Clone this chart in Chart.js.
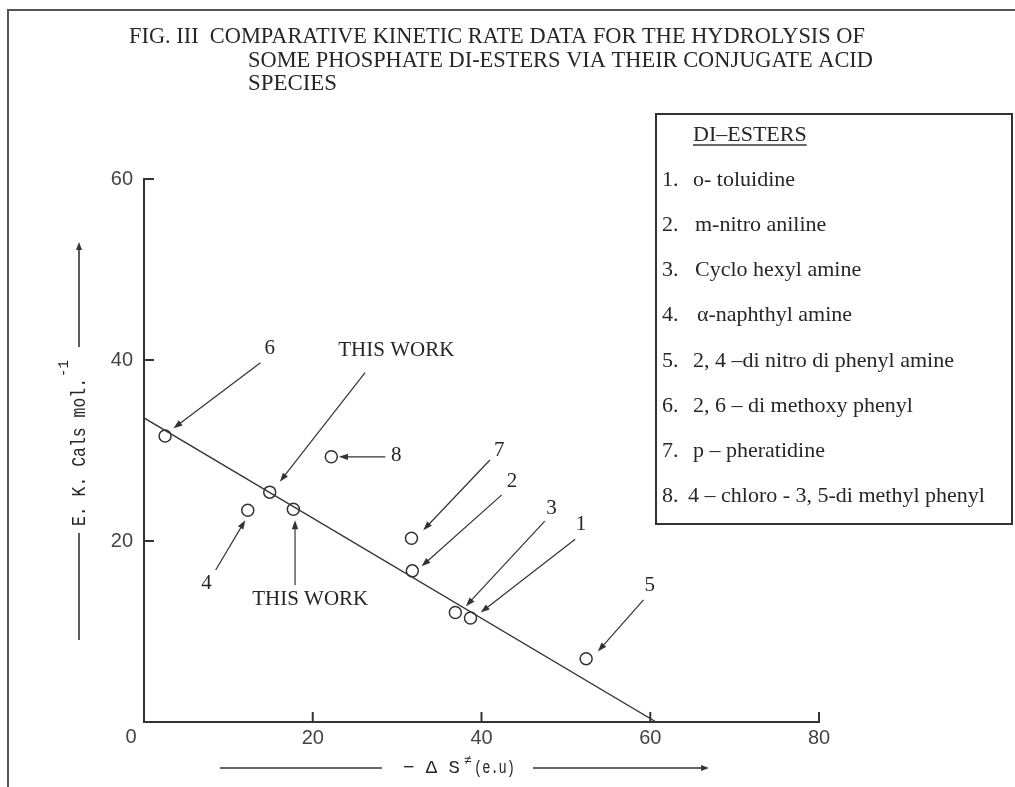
<!DOCTYPE html>
<html><head><meta charset="utf-8">
<script src="https://cdn.jsdelivr.net/npm/chart.js@4.4.1/dist/chart.umd.min.js"></script>
<style>html,body{margin:0;padding:0;background:#fff;}canvas{display:block;}</style>
</head><body>
<canvas id="c" width="1015" height="787"></canvas>
<script>
// ---------------- data ----------------
const titleLines = [
  'FIG. III  COMPARATIVE KINETIC RATE DATA FOR THE HYDROLYSIS OF',
  'SOME PHOSPHATE DI-ESTERS VIA THEIR CONJUGATE ACID',
  'SPECIES'
];
const legendTitle = 'DI\u2013ESTERS';
const legendNumbers = ['1.', '2.', '3.', '4.', '5.', '6.', '7.', '8.'];
const legendNames = [
  'o- toluidine',
  'm-nitro aniline',
  'Cyclo hexyl amine',
  '\u03b1-naphthyl amine',
  '2, 4 \u2013di nitro di phenyl amine',
  '2, 6 \u2013 di methoxy phenyl',
  'p \u2013 pheratidine',
  '4 \u2013 chloro - 3, 5-di methyl phenyl'
];
const pointIds = ['1', '2', '3', '4', '5', '6', '7', '8', 'THIS WORK', 'THIS WORK'];
const entropyX = [38.7, 31.8, 36.9, 12.3, 52.4, 2.5, 31.7, 22.2, 14.9, 17.7];   // -dS (e.u)
const energyY  = [11.5, 16.7, 12.1, 23.4, 7.0, 31.6, 20.3, 29.3, 25.4, 23.5];   // E kcal/mol
const fitX = [0, 60.7];
const fitY = [33.6, 0];
const xTickValues = [0, 20, 40, 60, 80];
const yTickValues = [0, 20, 40, 60];
const xAxisTitle = ['\u2212 \u0394 S', '\u2260', '(e.u)'];
const yAxisTitle = ['E. K. Cals mol.', '-1'];

// ---------------- layout of callouts (data units) ----------------
const callouts = [
  {text: '6',         lx: 14.9, ly: 41.3,  tx: 13.8, ty: 39.7,  hx: 3.5,  hy: 32.45},
  {text: 'THIS WORK', lx: 29.9, ly: 41.0,  tx: 26.2, ty: 38.6,  hx: 16.1, hy: 26.55},
  {text: '8',         lx: 29.9, ly: 29.45, tx: 28.6, ty: 29.3,  hx: 23.1, hy: 29.3},
  {text: '4',         lx: 7.4,  ly: 15.3,  tx: 8.5,  ty: 16.8,  hx: 12.0, hy: 22.3},
  {text: 'THIS WORK', lx: 19.7, ly: 13.5,  tx: 17.9, ty: 15.1,  hx: 17.9, hy: 22.3},
  {text: '7',         lx: 42.1, ly: 30.05, tx: 41.0, ty: 28.95, hx: 33.1, hy: 21.2},
  {text: '2',         lx: 43.6, ly: 26.55, tx: 42.4, ty: 25.1,  hx: 32.9, hy: 17.2},
  {text: '3',         lx: 48.3, ly: 23.6,  tx: 47.5, ty: 22.2,  hx: 38.15,hy: 12.8},
  {text: '1',         lx: 51.8, ly: 21.8,  tx: 51.1, ty: 20.2,  hx: 39.9, hy: 12.1},
  {text: '5',         lx: 59.95,ly: 15.1,  tx: 59.2, ty: 13.5,  hx: 53.8, hy: 7.8}
];

const INK = '#262626';
const SERIF = '"Liberation Serif", "Times New Roman", serif';
const MONO = '"Liberation Mono", "DejaVu Sans Mono", monospace';
const SANS = '"Liberation Sans", Arial, sans-serif';

function arrow(ctx, x1, y1, x2, y2, len, wid) {
  const a = Math.atan2(y2 - y1, x2 - x1);
  ctx.beginPath();
  ctx.moveTo(x1, y1);
  ctx.lineTo(x2 - Math.cos(a) * len * 0.6, y2 - Math.sin(a) * len * 0.6);
  ctx.stroke();
  ctx.beginPath();
  ctx.moveTo(x2, y2);
  ctx.lineTo(x2 - Math.cos(a) * len + Math.sin(a) * wid, y2 - Math.sin(a) * len - Math.cos(a) * wid);
  ctx.lineTo(x2 - Math.cos(a) * len - Math.sin(a) * wid, y2 - Math.sin(a) * len + Math.cos(a) * wid);
  ctx.closePath();
  ctx.fill();
}

const decor = {
  id: 'decor',
  beforeDraw(chart) {
    const ctx = chart.ctx;
    ctx.save();
    ctx.fillStyle = '#fff';
    ctx.fillRect(0, 0, chart.width, chart.height);
    // outer frame (top + left)
    ctx.strokeStyle = '#555';
    ctx.lineWidth = 2;
    ctx.beginPath();
    ctx.moveTo(8, chart.height);
    ctx.lineTo(8, 10);
    ctx.lineTo(chart.width, 10);
    ctx.stroke();
    // title
    ctx.fillStyle = INK;
    ctx.font = '24px ' + SERIF;
    ctx.textBaseline = 'middle';
    ctx.textAlign = 'left';
    ctx.fillText(titleLines[0], 129, 37, 736);
    ctx.fillText(titleLines[1], 248, 60.5, 625);
    ctx.fillText(titleLines[2], 248, 84, 89);
    // legend box
    ctx.strokeStyle = '#333';
    ctx.lineWidth = 2;
    ctx.strokeRect(656, 114, 356, 410);
    ctx.font = '22px ' + SERIF;
    ctx.fillText(legendTitle, 693, 135);
    const tw = ctx.measureText(legendTitle).width;
    ctx.lineWidth = 1.5;
    ctx.beginPath();
    ctx.moveTo(693, 145);
    ctx.lineTo(693 + tw, 145);
    ctx.stroke();
    const nameX = [693, 695, 695, 697, 693, 693, 693, 688];
    for (let i = 0; i < legendNames.length; i++) {
      const y = 180 + i * 45.2;
      ctx.fillText(legendNumbers[i], 662, y);
      ctx.fillText(legendNames[i], nameX[i], y);
    }
    // x axis title
    const ty = 768;
    ctx.font = '19px ' + MONO;
    ctx.fillText(xAxisTitle[0], 403, ty, 62);
    ctx.font = '13px ' + MONO;
    ctx.fillText(xAxisTitle[1], 464, ty - 7, 9);
    ctx.font = '19px ' + MONO;
    ctx.fillText(xAxisTitle[2], 474, ty, 41);
    ctx.strokeStyle = '#333';
    ctx.fillStyle = '#333';
    ctx.lineWidth = 1.6;
    ctx.beginPath();
    ctx.moveTo(220, ty);
    ctx.lineTo(382, ty);
    ctx.stroke();
    arrow(ctx, 533, ty, 709, ty, 8, 3);
    // y axis title (rotated)
    ctx.save();
    ctx.translate(85, 526);
    ctx.rotate(-Math.PI / 2);
    ctx.fillStyle = INK;
    ctx.textBaseline = 'alphabetic';
    ctx.font = '20px ' + MONO;
    ctx.fillText(yAxisTitle[0], 0, 0, 148);
    ctx.font = '14px ' + MONO;
    ctx.fillText(yAxisTitle[1], 149, -17, 17);
    ctx.restore();
    ctx.beginPath();
    ctx.moveTo(79, 640);
    ctx.lineTo(79, 533);
    ctx.stroke();
    arrow(ctx, 79, 347, 79, 242, 8, 3);
    ctx.restore();
  },
  afterDatasetsDraw(chart) {
    const ctx = chart.ctx;
    const xs = chart.scales.x, ys = chart.scales.y;
    ctx.save();
    // inward tick marks
    ctx.strokeStyle = '#333';
    ctx.lineWidth = 2;
    xTickValues.forEach(v => {
      if (v === 0) return;
      const px = xs.getPixelForValue(v);
      ctx.beginPath();
      ctx.moveTo(px, ys.bottom);
      ctx.lineTo(px, ys.bottom - 10);
      ctx.stroke();
    });
    yTickValues.forEach(v => {
      if (v === 0) return;
      const py = ys.getPixelForValue(v);
      ctx.beginPath();
      ctx.moveTo(xs.left, py);
      ctx.lineTo(xs.left + 10, py);
      ctx.stroke();
    });
    // origin label
    ctx.fillStyle = '#444';
    ctx.font = '20px ' + SANS;
    ctx.textAlign = 'center';
    ctx.textBaseline = 'middle';
    ctx.fillText(String(xTickValues[0]), xs.left - 13, ys.bottom + 15);
    // callouts
    ctx.strokeStyle = '#333';
    ctx.fillStyle = '#333';
    ctx.lineWidth = 1.2;
    callouts.forEach(c => {
      arrow(ctx, xs.getPixelForValue(c.tx), ys.getPixelForValue(c.ty),
            xs.getPixelForValue(c.hx), ys.getPixelForValue(c.hy), 9, 3.2);
    });
    ctx.fillStyle = INK;
    ctx.font = '21px ' + SERIF;
    callouts.forEach(c => {
      ctx.fillText(c.text, xs.getPixelForValue(c.lx), ys.getPixelForValue(c.ly));
    });
    ctx.restore();
  }
};

new Chart(document.getElementById('c'), {
  type: 'scatter',
  data: {
    datasets: [
      {
        label: 'fit',
        type: 'line',
        data: fitX.map((v, i) => ({x: v, y: fitY[i]})),
        borderColor: '#333',
        borderWidth: 1.3,
        pointRadius: 0,
        fill: false,
        tension: 0
      },
      {
        label: 'di-esters',
        data: entropyX.map((v, i) => ({x: v, y: energyY[i], id: pointIds[i]})),
        pointRadius: 6,
        pointBorderWidth: 1.5,
        borderColor: '#333',
        backgroundColor: 'rgba(255,255,255,0)',
        pointStyle: 'circle'
      }
    ]
  },
  options: {
    responsive: false,
    animation: false,
    devicePixelRatio: 1,
    layout: {padding: {top: 179, right: 196, left: 0, bottom: 0}},
    plugins: {legend: {display: false}, tooltip: {enabled: false}, title: {display: false}},
    scales: {
      x: {
        type: 'linear', min: 0, max: 80,
        afterBuildTicks: s => { s.ticks = xTickValues.map(v => ({value: v})); },
        afterFit: s => { s.height = 65; },
        grid: {display: false, drawTicks: false},
        border: {display: true, color: '#333', width: 2},
        ticks: {
          padding: 4, color: '#444', font: {family: SANS, size: 20},
          callback: v => (v === 0 ? '' : String(v))
        }
      },
      y: {
        type: 'linear', min: 0, max: 60,
        afterBuildTicks: s => { s.ticks = yTickValues.map(v => ({value: v})); },
        afterFit: s => { s.width = 144; },
        grid: {display: false, drawTicks: false},
        border: {display: true, color: '#333', width: 2},
        ticks: {
          padding: 11, color: '#444', font: {family: SANS, size: 20},
          callback: v => (v === 0 ? '' : String(v))
        }
      }
    }
  },
  plugins: [decor]
});
</script>
</body></html>
